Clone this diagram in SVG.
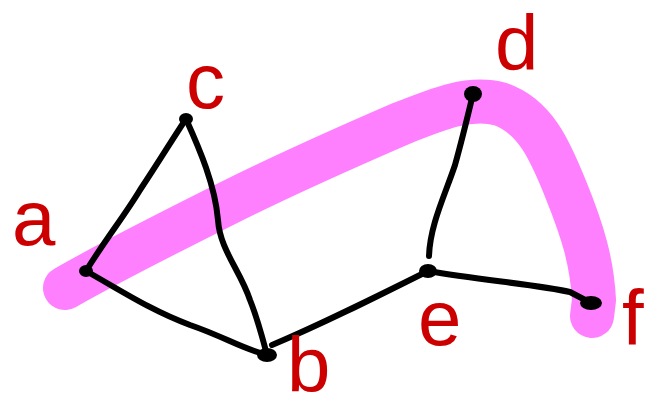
<svg xmlns="http://www.w3.org/2000/svg" width="657" height="412" viewBox="0 0 657 412">
<style>
.hl{fill:none;stroke:#ff80ff;stroke-width:44;stroke-linecap:round;stroke-linejoin:round}
.ed{fill:none;stroke:#000;stroke-width:6;stroke-linecap:round;stroke-linejoin:round}
.nd{fill:#000}
.lb{fill:#cc0000;font-family:"Liberation Sans",sans-serif;font-size:78px}
</style>
<rect width="657" height="412" fill="#fff"/>
<path class="hl" d="M65,288 C110,262 170,232 230,202 C290,172 340,150 400,124 C440,108 470,96 500,104 C535,116 550,150 566,190 C583,232 592,262 594,300 L592,316"/>
<g id="connectors">
<path class="ed" d="M86,271 C105,240 125,215 140,190 C160,160 175,135 186,119"/>
<path class="ed" d="M186,119 C200,150 215,185 218,220 C220,250 240,270 250,300 C258,320 263,340 267,355"/>
<path class="ed" d="M86,271 C120,290 150,310 190,325 C225,337 240,348 267,355"/>
<path class="ed" d="M272,345 C320,325 370,300 428,271"/>
<path class="ed" d="M429,256 C430,225 445,195 455,165 C462,140 468,115 473,94"/>
<path class="ed" d="M428,271 C480,280 540,285 570,292 L591,303"/>
</g>
<g id="a"><ellipse class="nd" cx="86" cy="271" rx="7" ry="6"/><text class="lb" x="12" y="245">a</text></g>
<g id="b"><ellipse class="nd" cx="267" cy="355" rx="10" ry="7"/><text class="lb" x="287" y="392">b</text></g>
<g id="c"><ellipse class="nd" cx="186" cy="119" rx="7" ry="6"/><text class="lb" x="186" y="108">c</text></g>
<g id="d"><ellipse class="nd" cx="473" cy="94" rx="9" ry="8"/><text class="lb" x="495" y="70">d</text></g>
<g id="e"><ellipse class="nd" cx="428" cy="271" rx="9" ry="7"/><text class="lb" x="418" y="345">e</text></g>
<g id="f"><ellipse class="nd" cx="591" cy="303" rx="11" ry="7"/><text class="lb" x="622" y="345">f</text></g>
</svg>
